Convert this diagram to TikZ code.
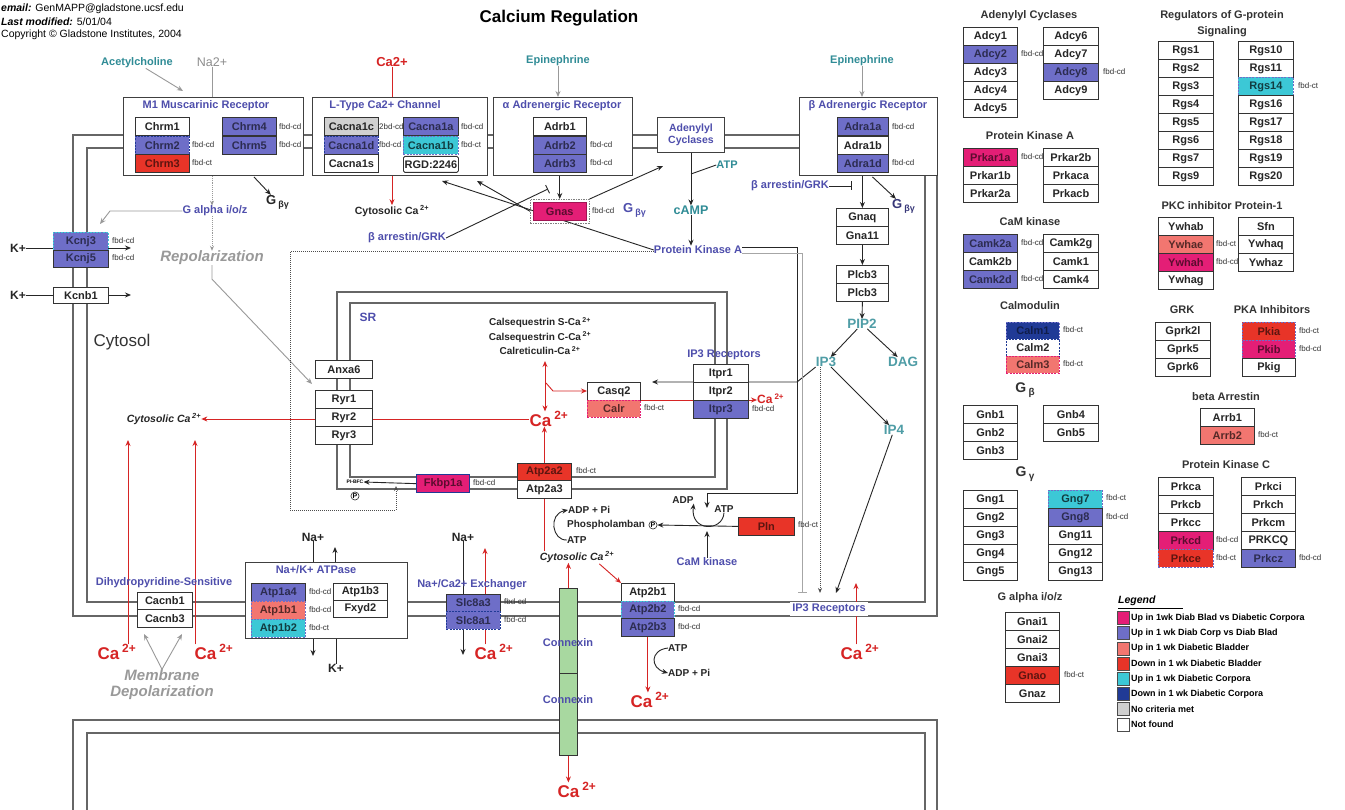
\documentclass[tikz,border=0pt]{standalone}
\usepackage{fontspec}
\setmainfont{Liberation Sans}
\usetikzlibrary{arrows.meta,calc}
\newcommand\fsz[1]{\fontsize{#1}{#1}\selectfont}
\newcommand\catwo{Ca\,\textsuperscript{2+}}
\pgfdeclarelayer{bgw}
\pgfdeclarelayer{back}
\pgfdeclarelayer{mid}
\pgfsetlayers{bgw,back,mid,main}
\definecolor{cblue}{RGB}{110,110,200}
\definecolor{cred}{RGB}{232,52,40}
\definecolor{cpink}{RGB}{228,30,118}
\definecolor{csalmon}{RGB}{242,118,112}
\definecolor{ccyan}{RGB}{60,200,214}
\definecolor{cdblue}{RGB}{32,58,150}
\definecolor{cgray}{RGB}{208,208,208}
\definecolor{cgreen}{RGB}{168,216,160}
\definecolor{pblue}{RGB}{78,78,172}
\definecolor{teal2}{RGB}{48,140,150}
\definecolor{cared}{RGB}{214,36,36}
\tikzset{
 mem/.style={draw=black!60, line width=1.2pt},
 grpbox/.style={draw=black!75, line width=0.9pt, fill=white, anchor=north west, inner sep=0pt},
 gene/.style={draw=black!80, line width=0.8pt, fill=white, minimum width=54pt, minimum height=18pt, inner sep=0pt, anchor=north west, font=\fsz{11}\bfseries, text=black!85},
 gw/.style={},
 gb/.style={fill=cblue, text=cblue!40!black},
 gr/.style={fill=cred, text=cred!40!black},
 gp/.style={fill=cpink, text=cpink!40!black},
 gs/.style={fill=csalmon, text=csalmon!35!black},
 gc/.style={fill=ccyan, text=ccyan!30!black},
 gd/.style={fill=cdblue, text=cdblue!50!black},
 gg/.style={fill=cgray},
 dsh/.style={draw=#1, dash pattern=on 2pt off 1.2pt},
 gbc/.style={gb, dsh=ccyan},
 gbd/.style={gb, dsh=cdblue},
 gcd/.style={gc, dsh=cblue},
 gsd/.style={gs, dsh=cblue},
 gdd/.style={gd, dsh=cblue},
 gwd/.style={dsh=cdblue},
 gsp/.style={gs, dsh=cpink},
 grd/.style={gr, dsh=cblue},
 gpd/.style={gp, dsh=cblue},
 fbd/.style={font=\fsz{8}, anchor=west, inner sep=0pt, text=black!80},
 ttl/.style={font=\fsz{11}\bfseries, text=pblue, inner sep=0pt},
 rttl/.style={font=\fsz{11}\bfseries, text=black!80, inner sep=0pt},
 tlb/.style={font=\fsz{11}\bfseries, text=teal2, inner sep=0pt},
 lbl/.style={font=\fsz{12}\bfseries, text=black!85, inner sep=0pt},
 redlbl/.style={font=\fsz{17}\bfseries, text=cared, inner sep=0pt},
 gylbl/.style={font=\fsz{15}\bfseries\itshape, text=black!40, inner sep=0pt},
 sml/.style={font=\fsz{10}\bfseries, text=black!85, inner sep=0pt, anchor=west},
 arr/.style={-{Stealth[length=6pt,width=5pt]}, line width=0.9pt, draw=black!85},
 ln/.style={line width=0.9pt, draw=black!85},
 garr/.style={-{Stealth[length=6pt,width=5pt]}, line width=0.9pt, draw=black!40},
 gln/.style={line width=0.9pt, draw=black!40},
 gdot/.style={-{Stealth[length=5pt,width=4pt]}, line width=0.9pt, draw=black!40, densely dotted},
 rarr/.style={-{Stealth[length=6pt,width=5pt]}, line width=0.9pt, draw=cared},
 rarrb/.style={{Stealth[length=6pt,width=5pt]}-{Stealth[length=6pt,width=5pt]}, line width=0.9pt, draw=cared},
 rln/.style={line width=0.9pt, draw=cared},
 tbar/.style={-{Bar[width=9pt]}, line width=0.9pt, draw=black!85},
 darr/.style={-{Stealth[length=5pt,width=4pt]}, line width=1pt, draw=black!70, densely dotted},
 circP/.style={circle, draw=black!85, line width=0.6pt, inner sep=0.5pt, font=\fsz{7}\bfseries},
}
\begin{document}
\begin{tikzpicture}[x=1pt,y=-1pt]
\useasboundingbox (0,0) rectangle (1345,810);
\begin{pgfonlayer}{bgw}
\fill[white] (0,0) rectangle (1345,810);
\end{pgfonlayer}
% ---------- header
\node[anchor=west, font=\fsz{10.5}, inner sep=0pt] (hdr1) at (1,9) {\textbf{\textit{email:}} GenMAPP@gladstone.ucsf.edu};
\node[anchor=west, font=\fsz{10.5}, inner sep=0pt] (hdr2) at (1,22) {\textbf{\textit{Last modified:}} 5/01/04};
\node[anchor=west, font=\fsz{10.5}, inner sep=0pt] (hdr3) at (1,35) {Copyright © Gladstone Institutes, 2004};
\node[font=\fsz{17}\bfseries, inner sep=0pt] (title) at (559,18) {Calcium Regulation};
% ---------- ligands
\node[tlb] (ach) at (137,63) {Acetylcholine};
\node[font=\fsz{12.5}, text=black!45, inner sep=0pt] (na2) at (212,62) {Na2+};
\node[font=\fsz{13}\bfseries, text=cared, inner sep=0pt] (catop) at (392,62) {Ca2+};
\node[tlb] (epi1) at (558,61) {Epinephrine};
\node[tlb] (epi2) at (862,61) {Epinephrine};
% ---------- M1
\node[grpbox, minimum width=180pt, minimum height=78pt] (m1) at (123,97) {};
\node[ttl] (m1t) at (206,106) {M1 Muscarinic Receptor};
\node[gene] (chrm1) at (135,117) {Chrm1};
\node[gene, gbd] (chrm2) at (135,136) {Chrm2};
\node[gene, gr] (chrm3) at (135,154) {Chrm3};
\node[gene, gb] (chrm4) at (222,117) {Chrm4};
\node[gene, gb] (chrm5) at (222,136) {Chrm5};
\node[fbd] (f1) at (192,145) {fbd-cd};
\node[fbd] (f2) at (192,163) {fbd-ct};
\node[fbd] (f3) at (279,127) {fbd-cd};
\node[fbd] (f4) at (279,145) {fbd-cd};
% ---------- L-type
\node[grpbox, minimum width=175pt, minimum height=78pt] (lt) at (312,97) {};
\node[ttl] (ltt) at (385,106) {L-Type Ca2+ Channel};
\node[gene, gg] (cacna1c) at (324,117) {Cacna1c};
\node[gene, gbd] (cacna1d) at (324,136) {Cacna1d};
\node[gene] (cacna1s) at (324,154) {Cacna1s};
\node[gene, gb, minimum width=55pt] (cacna1a) at (403,117) {Cacna1a};
\node[gene, gcd, minimum width=55pt] (cacna1b) at (403,136) {Cacna1b};
\node[gene, minimum width=55pt, minimum height=16pt, rounded corners=1.5pt] (rgd) at (403,156) {RGD:2246};
\node[fbd] (f5) at (379,127) {2bd-cd};
\node[fbd] (f6) at (379,145) {fbd-cd};
\node[fbd] (f7) at (461,127) {fbd-cd};
\node[fbd] (f8) at (461,145) {fbd-ct};
% ---------- alpha adrenergic
\node[grpbox, minimum width=139pt, minimum height=78pt] (ab) at (493,97) {};
\node[ttl] (abt) at (562,106) {α Adrenergic Receptor};
\node[gene, minimum width=53pt] (adrb1) at (533,117) {Adrb1};
\node[gene, gb, minimum width=53pt] (adrb2) at (533,136) {Adrb2};
\node[gene, gb, minimum width=53pt] (adrb3) at (533,154) {Adrb3};
\node[fbd] (f9) at (590,145) {fbd-cd};
\node[fbd] (f10) at (590,163) {fbd-cd};
\node[draw=black!50, dash pattern=on 1.5pt off 1pt, line width=0.6pt, anchor=north west, minimum width=59pt, minimum height=24pt, inner sep=0pt] (gnasbox) at (530,199) {};
\node[gene, gp, minimum width=53pt, draw=cpink!70!black, line width=0.5pt] (gnas) at (533,202) {Gnas};
\node[fbd] (f11) at (592,211) {fbd-cd};
\node[font=\fsz{13}\bfseries, text=pblue, inner sep=0pt, anchor=west] (gbg2) at (623,210) {G\,\raisebox{-3pt}{\fsz{9}βγ}};
\node[ttl] (barr1) at (407,238) {β arrestin/GRK};
% ---------- adenylyl cyclases / PKA
\node[grpbox, minimum width=67pt, minimum height=35pt, align=center, font=\fontsize{10.5}{12}\selectfont\bfseries, text=pblue] (ac) at (657,117) {Adenylyl\\Cyclases};
\node[tlb] (atpa) at (727,165) {ATP};
\node[font=\fsz{12.5}\bfseries, text=teal2, inner sep=0pt] (camp) at (691,210) {cAMP};
\node[ttl] (pka) at (698,250) {Protein Kinase A};
% ---------- beta adrenergic
\node[grpbox, minimum width=138pt, minimum height=78pt] (bb) at (799,97) {};
\node[ttl] (bbt) at (868,106) {β Adrenergic Receptor};
\node[gene, gb, minimum width=51pt] (adra1a) at (837,117) {Adra1a};
\node[gene, minimum width=51pt] (adra1b) at (837,136) {Adra1b};
\node[gene, gb, minimum width=51pt] (adra1d) at (837,154) {Adra1d};
\node[fbd] (f12) at (892,127) {fbd-cd};
\node[fbd] (f13) at (892,163) {fbd-cd};
\node[ttl] (barr2) at (790,186) {β arrestin/GRK};
\node[font=\fsz{13}\bfseries, text=pblue!70!black, inner sep=0pt, anchor=west] (gbg3) at (892,206) {G\,\raisebox{-3pt}{\fsz{9}βγ}};
\node[gene, minimum width=52pt] (gnaq) at (836,208) {Gnaq};
\node[gene, minimum width=52pt] (gna11) at (836,226) {Gna11};
\node[gene, minimum width=52pt] (plcb3a) at (836,265) {Plcb3};
\node[gene, minimum width=52pt] (plcb3b) at (836,283) {Plcb3};
\node[font=\fsz{13.5}\bfseries, text=teal2!85!white, inner sep=0pt] (pip2) at (862,324) {PIP2};
\node[font=\fsz{13.5}\bfseries, text=teal2!85!white, inner sep=0pt] (ip3) at (826,362) {IP3};
\node[font=\fsz{13.5}\bfseries, text=teal2!85!white, inner sep=0pt] (dag) at (903,362) {DAG};
\node[font=\fsz{13.5}\bfseries, text=teal2!85!white, inner sep=0pt] (ip4) at (894,430) {IP4};
% ---------- left side
\node[gene, gbc, minimum width=55pt] (kcnj3) at (53,232) {Kcnj3};
\node[gene, gb, minimum width=55pt, minimum height=17pt] (kcnj5) at (53,250) {Kcnj5};
\node[fbd] (f14) at (112,241) {fbd-cd};
\node[fbd] (f15) at (112,258) {fbd-cd};
\node[lbl] (kp1) at (18,248) {K+};
\node[gene, minimum width=55pt, minimum height=16pt] (kcnb1) at (53,287) {Kcnb1};
\node[lbl] (kp2) at (18,295) {K+};
\node[ttl] (galpha) at (215,211) {G alpha i/o/z};
\node[font=\fsz{13}\bfseries, text=black!85, inner sep=0pt, anchor=west] (gbg1) at (266,202) {G\,\raisebox{-3pt}{\fsz{9}βγ}};
\node[gylbl] (repol) at (212,258) {Repolarization};
\node[font=\fsz{17}, text=black!80, inner sep=0pt] (cytosol) at (122,342) {Cytosol};
\node[font=\fsz{10.5}\bfseries, text=black!85, inner sep=0pt] (cyto1) at (392,211) {Cytosolic \catwo};
\node[font=\fsz{10.5}\bfseries\itshape, text=black!85, inner sep=0pt] (cyto2) at (164,419) {Cytosolic \catwo};
% ---------- SR
\node[font=\fsz{12}\bfseries, text=pblue, inner sep=0pt] (sr) at (368,317) {SR};
\node[align=center, font=\fontsize{10}{14.5}\selectfont\bfseries, text=black!85, inner sep=0pt] (calseq) at (540,336) {Calsequestrin S-\catwo\\Calsequestrin C-\catwo\\Calreticulin-\catwo};
\node[gene, minimum width=57pt] (anxa6) at (315,360) {Anxa6};
\node[gene, minimum width=57pt] (ryr1) at (315,390) {Ryr1};
\node[gene, minimum width=57pt] (ryr2) at (315,408) {Ryr2};
\node[gene, minimum width=57pt] (ryr3) at (315,426) {Ryr3};
\node[redlbl] (casr) at (549,419) {\catwo};
\node[gene, minimum width=53pt] (casq2) at (587,382) {Casq2};
\node[gene, gsp, minimum width=53pt, minimum height=17pt] (calr) at (587,400) {Calr};
\node[fbd] (f16) at (644,408) {fbd-ct};
\node[ttl] (ip3rt) at (724,355) {IP3 Receptors};
\node[gene, minimum width=55pt] (itpr1) at (693,364) {Itpr1};
\node[gene, minimum width=55pt] (itpr2) at (693,382) {Itpr2};
\node[gene, gb, minimum width=55pt] (itpr3) at (693,400) {Itpr3};
\node[fbd] (f17) at (752,409) {fbd-cd};
\node[font=\fsz{12}\bfseries, text=cared, inner sep=0pt, anchor=west] (caip) at (757,399) {\catwo};
\node[gene, gr, minimum height=17pt] (atp2a2) at (517,463) {Atp2a2};
\node[gene] (atp2a3) at (517,480) {Atp2a3};
\node[fbd] (f18) at (576,471) {fbd-ct};
\node[gene, gp, minimum width=53pt, draw=cdblue, line width=1.3pt] (fkbp) at (416,474) {Fkbp1a};
\node[fbd] (f19) at (473,483) {fbd-cd};
\node[font=\fsz{5}\bfseries, inner sep=0pt] (pibfc) at (355,482) {PI-BFC};
\node[circP] (pP2) at (355,496) {P};
% ---------- phospholamban
\node[sml] (adppi) at (568,510) {ADP + Pi};
\node[sml] (phos) at (567,525) {Phospholamban};
\node[circP] (pP1) at (653,525) {P};
\node[sml] (atpb) at (567,540) {ATP};
\node[gene, gr, minimum width=56pt] (pln) at (738,517) {Pln};
\node[fbd] (f20) at (798,525) {fbd-ct};
\node[sml, anchor=center] (adp2) at (683,500) {ADP};
\node[sml, anchor=center] (atp3) at (724,509) {ATP};
\node[ttl] (camk) at (707,562) {CaM kinase};
\node[font=\fsz{10.5}\bfseries\itshape, text=black!85, inner sep=0pt] (cyto3) at (577,557) {Cytosolic \catwo};
% ---------- bottom membrane
\node[ttl] (dhp) at (164,583) {Dihydropyridine-Sensitive};
\node[gene, minimum width=55pt, minimum height=17pt] (cacnb1) at (137,592) {Cacnb1};
\node[gene, minimum width=55pt] (cacnb3) at (137,609) {Cacnb3};
\node[redlbl] (cal1) at (117,652) {\catwo};
\node[redlbl] (cal2) at (214,652) {\catwo};
\node[gylbl] (memb) at (162,675) {Membrane};
\node[gylbl] (depol) at (162,693) {Depolarization};
\node[grpbox, minimum width=162pt, minimum height=76pt] (nka) at (245,562) {};
\node[ttl] (nkat) at (316,570) {Na+/K+ ATPase};
\node[fbd] (f21) at (309,592) {fbd-cd};
\node[fbd] (f22) at (309,610) {fbd-cd};
\node[fbd] (f23) at (309,628) {fbd-ct};
\node[gene, gb] (atp1a4) at (251,583) {Atp1a4};
\node[gene, gsd] (atp1b1) at (251,601) {Atp1b1};
\node[gene, gcd] (atp1b2) at (251,619) {Atp1b2};
\node[gene, minimum height=17pt] (atp1b3) at (333,583) {Atp1b3};
\node[gene, minimum height=17pt] (fxyd2) at (333,600) {Fxyd2};
\node[lbl] (na1) at (313,537) {Na+};
\node[lbl] (kb) at (336,668) {K+};
\node[ttl] (ncx) at (472,585) {Na+/Ca2+ Exchanger};
\node[gene, gb, minimum height=17pt] (slc8a3) at (446,594) {Slc8a3};
\node[gene, gbd] (slc8a1) at (446,611) {Slc8a1};
\node[fbd] (f24) at (504,602) {fbd-cd};
\node[fbd] (f25) at (504,620) {fbd-cd};
\node[lbl] (na3) at (463,537) {Na+};
\node[redlbl] (cax) at (494,652) {\catwo};
\node[draw=black!80, fill=cgreen, line width=0.8pt, anchor=north west, minimum width=18pt, minimum height=85pt, inner sep=0pt] (con1) at (559,588) {};
\node[draw=black!80, fill=cgreen, line width=0.8pt, anchor=north west, minimum width=18pt, minimum height=82pt, inner sep=0pt] (con2) at (559,673) {};
\node[ttl] (conl1) at (568,643) {Connexin};
\node[ttl] (conl2) at (568,700) {Connexin};
\node[redlbl] (cacon) at (577,790) {\catwo};
\node[gene, minimum width=53pt] (atp2b1) at (621,583) {Atp2b1};
\node[gene, gbc, minimum width=53pt, minimum height=17pt] (atp2b2) at (621,601) {Atp2b2};
\node[gene, gb, minimum width=53pt] (atp2b3) at (621,618) {Atp2b3};
\node[fbd] (f26) at (678,609) {fbd-cd};
\node[fbd] (f27) at (678,627) {fbd-cd};
\node[redlbl] (cab) at (650,700) {\catwo};
\node[sml] (atpc) at (668,648) {ATP};
\node[sml] (adpc) at (668,673) {ADP + Pi};
\node[ttl, fill=white, inner sep=2pt] (ip3rb) at (829,609) {IP3 Receptors};
\node[redlbl] (cabr) at (860,652) {\catwo};
% ---------- right panel
\node[rttl] (tAC) at (1029,16) {Adenylyl Cyclases};
\foreach \n/\s [count=\k from 0] in {Adcy1/gw,Adcy2/gb,Adcy3/gw,Adcy4/gw,Adcy5/gw}
  \node[gene,\s] (\n) at (963,{27+18*\k}) {\n};
\node[fbd] (f28) at (1021,54) {fbd-cd};
\node[fbd] (f29) at (1103,72) {fbd-cd};
\foreach \n/\s [count=\k from 0] in {Adcy6/gw,Adcy7/gw,Adcy8/gb,Adcy9/gw}
  \node[gene,\s,minimum width=55pt] (\n) at (1043,{27+18*\k}) {\n};
\node[rttl] (tPKA) at (1030,136) {Protein Kinase A};
\foreach \n/\s [count=\k from 0] in {Prkar1a/gp,Prkar1b/gw,Prkar2a/gw}
  \node[gene,\s] (\n) at (963,{148+18*\k}) {\n};
\node[fbd] (f30) at (1021,157) {fbd-cd};
\foreach \n/\s [count=\k from 0] in {Prkar2b/gw,Prkaca/gw,Prkacb/gw}
  \node[gene,\s,minimum width=55pt] (\n) at (1043,{148+18*\k}) {\n};
\node[rttl] (tCaMK) at (1030,222) {CaM kinase};
\foreach \n/\s [count=\k from 0] in {Camk2a/gb,Camk2b/gw,Camk2d/gb}
  \node[gene,\s] (\n) at (963,{234+18*\k}) {\n};
\node[fbd] (f31) at (1021,243) {fbd-cd};
\node[fbd] (f32) at (1021,279) {fbd-cd};
\foreach \n/\s [count=\k from 0] in {Camk2g/gw,Camk1/gw,Camk4/gw}
  \node[gene,\s,minimum width=55pt] (\n) at (1043,{234+18*\k}) {\n};
\node[rttl] (tCalm) at (1030,306) {Calmodulin};
\foreach \n/\s [count=\k from 0] in {Calm1/gdd,Calm2/gwd,Calm3/gsp}
  \node[gene,\s,minimum width=53pt,minimum height=17pt] (\n) at (1006,{322+17*\k}) {\n};
\node[fbd] (f33) at (1063,330) {fbd-ct};
\node[fbd] (f34) at (1063,364) {fbd-ct};
\node[rttl, font=\fsz{14}\bfseries] (tGb) at (1025,390) {G\,\raisebox{-3pt}{\fsz{10}β}};
\foreach \n [count=\k from 0] in {Gnb1,Gnb2,Gnb3}
  \node[gene] (\n) at (963,{405+18*\k}) {\n};
\foreach \n [count=\k from 0] in {Gnb4,Gnb5}
  \node[gene,minimum width=55pt] (\n) at (1043,{405+18*\k}) {\n};
\node[rttl, font=\fsz{14}\bfseries] (tGg) at (1025,474) {G\,\raisebox{-3pt}{\fsz{10}γ}};
\foreach \n [count=\k from 0] in {Gng1,Gng2,Gng3,Gng4,Gng5}
  \node[gene] (\n) at (963,{490+18*\k}) {\n};
\foreach \n/\s [count=\k from 0] in {Gng7/gcd,Gng8/gb,Gng11/gw,Gng12/gw,Gng13/gw}
  \node[gene,\s] (\n) at (1048,{490+18*\k}) {\n};
\node[fbd] (f35) at (1106,498) {fbd-ct};
\node[fbd] (f36) at (1106,517) {fbd-cd};
\node[rttl] (tGa) at (1030,598) {G alpha i/o/z};
\foreach \n/\s [count=\k from 0] in {Gnai1/gw,Gnai2/gw,Gnai3/gw,Gnao/gr,Gnaz/gw}
  \node[gene,\s] (\n) at (1005,{612+18*\k}) {\n};
\node[fbd] (f37) at (1064,675) {fbd-ct};
\node[rttl, align=center, font=\fontsize{11}{16}\selectfont\bfseries] (tRgs) at (1222,24) {Regulators of G-protein\\Signaling};
\foreach \n [count=\k from 0] in {Rgs1,Rgs2,Rgs3,Rgs4,Rgs5,Rgs6,Rgs7,Rgs9}
  \node[gene,minimum width=55pt] (\n) at (1158,{41+18*\k}) {\n};
\foreach \n/\s [count=\k from 0] in {Rgs10/gw,Rgs11/gw,Rgs14/gcd,Rgs16/gw,Rgs17/gw,Rgs18/gw,Rgs19/gw,Rgs20/gw}
  \node[gene,\s,minimum width=55pt] (\n) at (1238,{41+18*\k}) {\n};
\node[fbd] (f38) at (1298,86) {fbd-ct};
\node[rttl] (tYw) at (1222,206) {PKC inhibitor Protein-1};
\foreach \n/\s [count=\k from 0] in {Ywhab/gw,Ywhae/gs,Ywhah/gp,Ywhag/gw}
  \node[gene,\s,minimum width=55pt] (\n) at (1158,{217+18*\k}) {\n};
\node[fbd] (f39) at (1216,244) {fbd-ct};
\node[fbd] (f40) at (1216,262) {fbd-cd};
\foreach \n [count=\k from 0] in {Sfn,Ywhaq,Ywhaz}
  \node[gene,minimum width=55pt] (\n) at (1238,{217+18*\k}) {\n};
\node[rttl] (tGRK) at (1182,310) {GRK};
\foreach \n [count=\k from 0] in {Gprk2l,Gprk5,Gprk6}
  \node[gene,minimum width=55pt] (\n) at (1155,{322+18*\k}) {\n};
\node[rttl] (tPKI) at (1272,310) {PKA Inhibitors};
\foreach \n/\s [count=\k from 0] in {Pkia/grd,Pkib/gpd,Pkig/gw}
  \node[gene,\s,minimum width=53pt] (\n) at (1242,{322+18*\k}) {\n};
\node[fbd] (f41) at (1299,331) {fbd-ct};
\node[fbd] (f42) at (1299,349) {fbd-cd};
\node[rttl] (tArr) at (1226,397) {beta Arrestin};
\foreach \n/\s [count=\k from 0] in {Arrb1/gw,Arrb2/gs}
  \node[gene,\s] (\n) at (1200,{408+18*\k}) {\n};
\node[fbd] (f43) at (1258,435) {fbd-ct};
\node[rttl] (tPKC) at (1226,465) {Protein Kinase C};
\foreach \n/\s [count=\k from 0] in {Prkca/gw,Prkcb/gw,Prkcc/gw,Prkcd/gp,Prkce/grd}
  \node[gene,\s,minimum width=55pt] (\n) at (1158,{477+18*\k}) {\n};
\node[fbd] (f44) at (1216,540) {fbd-cd};
\node[fbd] (f45) at (1216,558) {fbd-ct};
\foreach \n/\s [count=\k from 0] in {Prkci/gw,Prkch/gw,Prkcm/gw,PRKCQ/gw,Prkcz/gb}
  \node[gene,\s] (\n) at (1241,{477+18*\k}) {\n};
\node[fbd] (f46) at (1299,558) {fbd-cd};
% legend
\node[font=\fsz{10.5}\bfseries\itshape, anchor=west, inner sep=0pt] (legt) at (1118,601) {Legend};
\draw[line width=0.8pt] ($(legt.south west)+(0,2)$) -- ++(65,0);
\foreach \c/\t [count=\k from 0] in {cpink/Up in 1wk Diab Blad vs Diabetic Corpora,cblue/Up in 1 wk Diab Corp vs Diab Blad,csalmon/Up in 1 wk Diabetic Bladder,cred/Down in 1 wk Diabetic Bladder,ccyan/Up in 1 wk Diabetic Corpora,cdblue/Down in 1 wk Diabetic Corpora,cgray/No criteria met,white/Not found} {
  \node[draw=black!70, fill=\c, minimum width=12pt, minimum height=13pt, inner sep=0pt, line width=0.6pt] (lk\k) at (1123,{618+15.2*\k}) {};
  \node[anchor=west, font=\fsz{9}\bfseries, inner sep=0pt] (lt\k) at (1131,{618+15.2*\k}) {\t};
}
% ================= membranes
\begin{pgfonlayer}{back}
\draw[mem] (73,135) rectangle (937,616);
\draw[mem] (87,148) rectangle (925,602);
\draw[mem] (73,815) -- (73,720) -- (937,720) -- (937,815);
\draw[mem] (87,815) -- (87,733) -- (925,733) -- (925,815);
\draw[mem] (337,292) rectangle (727,489);
\draw[mem] (350,303) rectangle (715,477);
\end{pgfonlayer}
% ================= connectors
\begin{pgfonlayer}{mid}
\coordinate (achT) at (183,91);
\draw[garr] (ach) -- (achT);
\draw[gln] (na2) -- (na2 |- m1.north);
\draw[rln] (catop) -- (catop |- lt.north);
\draw[garr] (epi1) -- (epi1 |- ab.north);
\draw[garr] (epi2) -- (epi2 |- bb.north);
\draw[gdot] (na2 |- m1.south) -- (na2 |- galpha.north);
\draw[gdot] (na2 |- galpha.south) -- (na2 |- repol.north);
\coordinate (kT) at (100,224);
\draw[garr] (galpha.west) -- (110,211) -- (kT);
\coordinate (ryrT) at (312,384);
\draw[garr] (repol.south) -- ++(0,14) -- (ryrT);
\draw[arr] ($(m1.south east)+(-50,1)$) -- (gbg1);
\coordinate (kT2) at (131,248);
\coordinate (kT3) at (131,295);
\draw[arr] (kp1) -- (kT2);
\draw[arr] (kp2) -- (kT3);
\draw[rarr] (catop |- lt.south) -- (catop |- cyto1.north);
\coordinate (ltP) at (442,181);
\coordinate (ltG) at (477,181);
\coordinate (abT) at (548,189);
\draw[arr] (pka.west) -- (ltP);
\draw[arr] (gnasbox.west) -- (ltG);
\draw[tbar] (barr1.east) -- (abT);
\draw[arr] (ab.south -| gnas) -- (gnasbox.north -| gnas);
\coordinate (acG) at (663,166);
\draw[arr] (gnasbox.north east) -- (acG);
\draw[arr] (ac.south) -- (ac.south |- camp.north);
\coordinate (atpJ) at (691,174);
\draw[ln] (atpa.west) -- (atpJ);
\draw[arr] (camp.south) -- (camp.south |- pka.north);
\draw[arr] (gnaq.north |- bb.south) -- (gnaq.north);
\coordinate (bbT) at (852,186);
\draw[tbar] (barr2.east) -- (bbT);
\draw[arr] ($(bb.south)+(4,1)$) -- (gbg3);
\draw[arr] (gna11.south) -- (plcb3a.north);
\draw[arr] (plcb3b.south) -- (pip2.north);
\draw[arr] (pip2) -- (ip3);
\draw[arr] (pip2) -- (dag);
\draw[arr] (ip3) -- (ip4);
\coordinate (casqT) at (652,382);
\draw[arr] (ip3.south west) -- (797,382) -- (casqT);
\coordinate (ip3rA) at (820,593);
\coordinate (ip3rB) at (836,593);
\coordinate (ip3rC) at (856,583);
\draw[darr] (ip3.south -| ip3rA) -- (ip3rA);
\draw[arr] (ip4) -- (ip3rB);
\draw[rarr] (cabr.north -| ip3rC) -- (ip3rC);
\coordinate (pkaA) at (707,508);
\coordinate (pkaB) at (802,593);
\draw[arr] ($(pka.east)+(0,-3)$) -- (797,247) -- (797,493) -- (707,493) -- (pkaA);
\draw[tbar, draw=black!35] ($(pka.east)+(0,3)$) -- (802,253) -- (pkaB);
\draw[arr] (pln.west) -- (pP1.east);
\draw[arr] (atp3.south) .. controls (723,532) and (690,532) .. (adp2.south east);
\coordinate (cmT) at (707,531);
\draw[arr] (camk.north) -- (cmT);
\coordinate (csTop) at (545,361);
\draw[rarrb] (casr.north -| csTop) -- (csTop);
\coordinate (csBr) at (546,383);
\draw[rarr] (csBr) -- (553,391) -- (casq2.west |- 0,391);
\draw[rln] (casr.west) -- (casr.west -| ryr2.east);
\draw[rarr] (ryr2.west |- casr.west) -- (cyto2.east |- casr.west);
\draw[rarr] (atp2a2.north) -- (atp2a2.north |- casr.south);
\draw[rln] (atp2a3.south |- cyto3.north) -- (atp2a3.south);
\draw[arr] (atpb.west) .. controls (552,541) and (548,514) .. (adppi.west);
\draw[rarr] (calr.north east) -- (caip.west |- calr.north east);
\draw[arr] (fkbp.west) -- (pibfc.east);
\coordinate (pibT) at (396,486);
\draw[darr] ($(pka.west)+(0,2)$) -- (290,252) -- (290,510) -- (396,510) -- (pibT);
\coordinate (cyA) at (128,440);
\coordinate (cyB) at (195,440);
\draw[rarr] (cal1.north -| cyA) -- (cyA);
\draw[rarr] (cal2.north -| cyB) -- (cyB);
\coordinate (cbA) at (144,634);
\coordinate (cbB) at (182,634);
\draw[garr] (memb.north) -- (cbA);
\draw[garr] (memb.north) -- (cbB);
\draw[ln] (na1.south) -- (na1.south |- nka.north);
\coordinate (nkU) at (335,547);
\coordinate (nkD) at (313,656);
\draw[arr] (nkU |- nka.north) -- (nkU);
\draw[arr] (nkD |- nka.south) -- (nkD);
\draw[ln] (kb.north) -- (kb.north |- nka.south);
\draw[ln] (na3.south) -- (na3.south |- slc8a3.north);
\coordinate (ncU) at (485,548);
\coordinate (ncD) at (463,655);
\draw[rarr] (ncU |- slc8a3.north) -- (ncU);
\draw[arr] (ncD |- slc8a1.south) -- (ncD);
\draw[rln] (cax.north -| ncU) -- (ncU |- slc8a1.south);
\draw[rarr] (con1.north) -- (con1.north |- cyto3.south);
\draw[rarr] (con2.south) -- (con2.south |- cacon.north);
\draw[rarr] ($(cyto3.south east)+(-15,1)$) -- (atp2b1.north west);
\draw[rarr] (atp2b3.south) -- (atp2b3.south |- cab.north);
\draw[arr] (atpc.west) .. controls (650,650) and (650,668) .. (adpc.west);
\end{pgfonlayer}
\end{tikzpicture}
\end{document}
